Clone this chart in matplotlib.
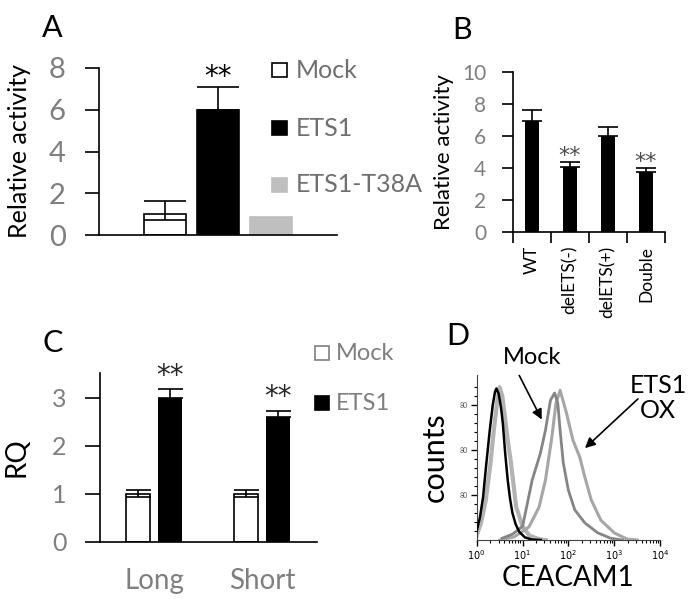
import numpy as np
import matplotlib
matplotlib.use('Agg')
import matplotlib.pyplot as plt
from matplotlib.patches import Rectangle
from matplotlib.ticker import FixedLocator, NullFormatter

plt.rcParams['font.family'] = ['Lato', 'DejaVu Sans']

W, H = 688, 599
GRAY = '#7f7f7f'

# panel A
a_labels = ['Mock', 'ETS1', 'ETS1-T38A']
a_vals = [1.0, 6.0, 0.88]
a_err_lo = [0.3, 0.0, 0.0]
a_err_hi = [0.65, 1.1, 0.0]
a_colors = ['white', 'black', '#bfbfbf']

# panel B
b_labels = ['WT', 'delETS(-)', 'delETS(+)', 'Double']
b_vals = [6.9, 4.06, 5.98, 3.7]
b_err = [0.7, 0.3, 0.56, 0.3]
b_sig = [False, True, False, True]

# panel C
c_groups = ['Long', 'Short']
c_mock = [1.0, 1.0]
c_mock_err = [0.07, 0.07]
c_ets1 = [3.0, 2.6]
c_ets1_err = [0.17, 0.12]

# panel D, histograms (log10 intensity, counts in tick units)
ctrl_logx = [0, 0.1, 0.2, 0.3, 0.38, 0.45, 0.5, 0.56, 0.62, 0.68, 0.75, 0.86, 1.0, 1.15, 1.35, 1.5]
ctrl_y = [0.1, 0.4, 0.9, 1.7, 2.5, 3.1, 3.4, 3.2, 2.7, 2.2, 1.7, 0.74, 0.3, 0.1, 0.02, 0]
iso_logx = [0, 0.07, 0.14, 0.2, 0.285, 0.35, 0.4, 0.43, 0.48, 0.53, 0.57, 0.62, 0.677, 0.73, 0.78, 0.85, 0.93, 1.05, 1.2, 1.4]
iso_y = [0.2, 0.5, 0.96, 1.6, 2.44, 3.0, 3.3, 3.37, 3.25, 2.95, 2.6, 1.95, 1.33, 0.9, 0.6, 0.35, 0.18, 0.06, 0.01, 0]
mock_logx = [0.56, 0.78, 1.0, 1.21, 1.39, 1.5, 1.61, 1.7, 1.77, 1.82, 1.89, 2.0, 2.14, 2.36, 2.64, 2.92, 3.18]
mock_y = [0.04, 0.13, 0.3, 1.33, 1.93, 2.44, 3.11, 3.27, 3.04, 2.44, 1.71, 1.11, 0.67, 0.38, 0.16, 0.04, 0]
ets_logx = [0.5, 0.82, 1.14, 1.36, 1.5, 1.64, 1.73, 1.82, 1.96, 2.1, 2.25, 2.36, 2.5, 2.71, 3.0, 3.28, 3.5]
ets_y = [0, 0.07, 0.29, 0.73, 1.33, 2.29, 3.04, 3.33, 2.82, 2.22, 1.84, 1.4, 0.89, 0.44, 0.16, 0.02, 0]


def box(l, t, r, b):
    return [l / W, 1 - b / H, (r - l) / W, (b - t) / H]


def stars(ax, x, y, size, dy, color='black'):
    ax.annotate('**', xy=(x, y), xytext=(0, dy), textcoords='offset points', ha='center',
                va='baseline', fontsize=size, color=color, family='DejaVu Sans')


fig = plt.figure(figsize=(W / 100, H / 100), dpi=100)

# ---- A ----
axA = fig.add_axes(box(99, 68, 337, 235))
xa = np.arange(len(a_vals))
axA.bar(xa, a_vals, width=0.79, color=a_colors, edgecolor=['black', 'black', '#bfbfbf'], linewidth=1.2, zorder=2)
axA.errorbar(xa[:2], a_vals[:2], yerr=[a_err_lo[:2], a_err_hi[:2]], fmt='none', ecolor='black',
             elinewidth=1.2, capsize=15, capthick=1.2, zorder=3)
stars(axA, xa[1], a_vals[1] + a_err_hi[1], 20, 1)
axA.set_xlim(-1.245, 3.245)
axA.set_ylim(0, 8)
axA.set_yticks([0, 2, 4, 6, 8])
axA.set_xticks([])
axA.tick_params(axis='y', direction='out', length=10, width=1.2, labelsize=21, labelcolor=GRAY, pad=14)
for s in ['top', 'right']:
    axA.spines[s].set_visible(False)
for s in ['left', 'bottom']:
    axA.spines[s].set_linewidth(1.2)
axA.set_ylabel('Relative activity', fontsize=18, labelpad=13)

# ---- B ----
axB = fig.add_axes(box(512.7, 71.7, 665, 231.7))
xb = np.arange(len(b_vals))
axB.bar(xb, b_vals, width=0.37, color='black', zorder=2)
axB.errorbar(xb, b_vals, yerr=[[0] * len(b_err), b_err], fmt='none', ecolor='black',
             elinewidth=1.2, capsize=7, capthick=1.2, zorder=3)
for i in range(len(b_vals)):
    if b_sig[i]:
        stars(axB, xb[i], b_vals[i] + b_err[i], 16, 0, '#4d4d4d')
axB.set_xlim(-0.5, len(b_vals) - 0.5)
axB.set_ylim(0, 10)
axB.set_yticks([0, 2, 4, 6, 8, 10])
axB.xaxis.set_major_locator(FixedLocator(np.arange(len(b_vals) + 1) - 0.5))
axB.xaxis.set_major_formatter(NullFormatter())
axB.set_xticks(xb, minor=True)
axB.set_xticklabels(b_labels, minor=True, rotation=90, fontsize=12.5)
axB.tick_params(axis='x', which='major', direction='out', length=8, width=1.2)
axB.tick_params(axis='x', which='minor', length=0, pad=10)
axB.tick_params(axis='y', direction='out', length=8, width=1.2, labelsize=15, labelcolor=GRAY, pad=11)
for s in ['top', 'right']:
    axB.spines[s].set_visible(False)
for s in ['left', 'bottom']:
    axB.spines[s].set_linewidth(1.2)
axB.set_ylabel('Relative activity', fontsize=16, labelpad=6)

# ---- C ----
axC = fig.add_axes(box(100, 373, 317, 541.7))
xc = np.arange(len(c_groups))
off, bw = 0.148, 0.23
axC.bar(xc - off, c_mock, width=bw, color='white', edgecolor='black', linewidth=1.2, zorder=2)
axC.bar(xc + off, c_ets1, width=bw, color='black', zorder=2)
axC.errorbar(xc - off, c_mock, yerr=c_mock_err, fmt='none', ecolor='black',
             elinewidth=1.2, capsize=9, capthick=1.2, zorder=3)
axC.errorbar(xc + off, c_ets1, yerr=[[0, 0], c_ets1_err], fmt='none', ecolor='black',
             elinewidth=1.2, capsize=9, capthick=1.2, zorder=3)
for i in range(len(c_groups)):
    stars(axC, xc[i] + off, c_ets1[i] + c_ets1_err[i], 20, 4, '#262626')
axC.set_xlim(-0.5, 1.51)
axC.set_ylim(0, 3.51)
axC.set_yticks([0, 1, 2, 3])
axC.set_xticks(xc)
axC.set_xticklabels(c_groups)
axC.tick_params(axis='x', length=0, pad=19, labelsize=20, labelcolor=GRAY)
axC.tick_params(axis='y', direction='out', length=11, width=1.2, labelsize=18, labelcolor=GRAY, pad=13)
for s in ['top', 'right']:
    axC.spines[s].set_visible(False)
for s in ['left', 'bottom']:
    axC.spines[s].set_linewidth(1.2)
axC.set_ylabel('RQ', fontsize=20, labelpad=16)

# ---- D ----
axD = fig.add_axes(box(476.7, 375, 660, 540))
axD.plot(10 ** np.array(ctrl_logx), ctrl_y, color='#b3b3b3', lw=3, zorder=2)
axD.plot(10 ** np.array(iso_logx), iso_y, color='black', lw=1.8, zorder=4)
axD.plot(10 ** np.array(ets_logx), ets_y, color='#a6a6a6', lw=2.2, zorder=3)
axD.plot(10 ** np.array(mock_logx), mock_y, color='#858585', lw=2, zorder=3)
axD.set_xscale('log')
axD.set_xlim(1, 10 ** 3.925)
axD.set_ylim(0, 3.67)
axD.set_xticks([1, 10, 100, 1000, 10000])
axD.set_xticklabels(['$10^0$', '$10^1$', '$10^2$', '$10^3$', '$10^4$'])
axD.set_yticks([1, 2, 3])
axD.set_yticklabels(['80', '80', '80'])
axD.set_yticks(np.arange(0.2, 3.6, 0.2), minor=True)
axD.tick_params(axis='x', which='major', direction='out', length=4, width=1, labelsize=7, pad=2)
axD.tick_params(axis='x', which='minor', direction='out', length=2, width=0.8)
axD.tick_params(axis='y', which='major', direction='out', length=4, width=1, labelsize=5, labelcolor='#555555', pad=2)
axD.tick_params(axis='y', which='minor', direction='out', length=2, width=0.8)
for s in ['top', 'right']:
    axD.spines[s].set_visible(False)
for s in ['left', 'bottom']:
    axD.spines[s].set_color('#444444')
axD.set_xlabel('CEACAM1', fontsize=20, labelpad=2)
axD.set_ylabel('counts', fontsize=22, labelpad=8)

# ---- overlay: panel letters, legends, arrows ----
ov = fig.add_axes([0, 0, 1, 1])
ov.set_xlim(0, W)
ov.set_ylim(H, 0)
ov.axis('off')

for lab, x, y in [('A', 42, 28), ('B', 452, 30), ('C', 42, 343), ('D', 446, 336)]:
    ov.text(x, y, lab, fontsize=22, ha='left', va='center')

a_edges = ['black', 'black', '#bfbfbf']
for i, lab in enumerate(a_labels):
    y = [70, 128, 185][i]
    ov.add_patch(Rectangle((272, y - 7), 15, 14, facecolor=a_colors[i], edgecolor=a_edges[i], lw=1.2))
    ov.text(296, y, lab, fontsize=18, color='#6f6f6f', va='center', ha='left')

c_leg = [('Mock', 'white', GRAY), ('ETS1', 'black', 'black')]
for i, (lab, fc, ec) in enumerate(c_leg):
    y = [353, 403][i]
    ov.add_patch(Rectangle((315, y - 7), 14, 14, facecolor=fc, edgecolor=ec, lw=1.2))
    ov.text(336, y, lab, fontsize=17, color='#7f7f7f', va='center', ha='left')

ov.text(532, 358, 'Mock', fontsize=17, ha='center', va='center')
ov.text(658, 398, 'ETS1\nOX', fontsize=18, ha='center', va='center', linespacing=1.1)
ov.annotate('', xy=(543, 422), xytext=(518, 373),
            arrowprops=dict(arrowstyle='-|>', color='black', lw=1.2, mutation_scale=15))
ov.annotate('', xy=(583, 450), xytext=(640, 397),
            arrowprops=dict(arrowstyle='-|>', color='black', lw=1.2, mutation_scale=15))

fig.savefig('out.png', dpi=100)
